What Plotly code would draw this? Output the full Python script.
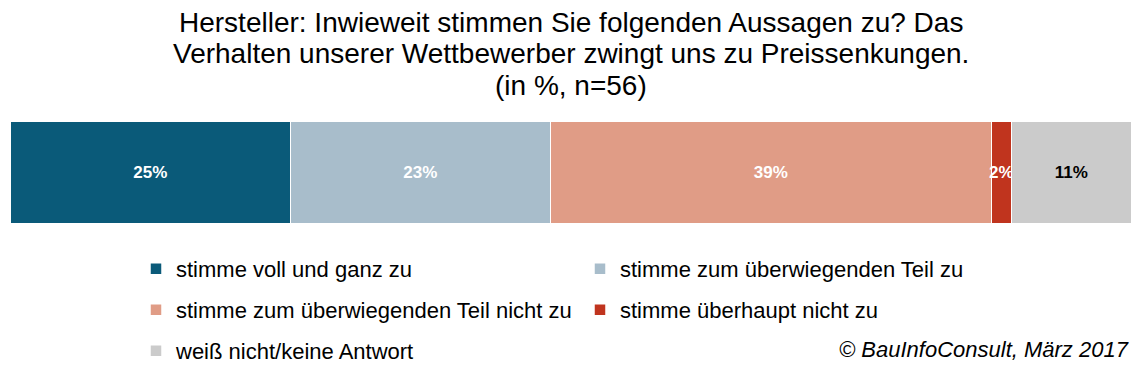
import plotly.graph_objects as go

categories = ["stimme voll und ganz zu", "stimme zum überwiegenden Teil zu",
              "stimme zum überwiegenden Teil nicht zu", "stimme überhaupt nicht zu",
              "weiß nicht/keine Antwort"]
values = [25.0, 23.2, 39.3, 1.8, 10.7]
colors = ["#0a5a79", "#a8bdcb", "#e09c86", "#c0341e", "#cbcbcb"]
label_colors = ["white", "white", "white", "white", "black"]
legend_ids = ["legend", "legend", "legend2", "legend2", "legend3"]

title_lines = ["Hersteller: Inwieweit stimmen Sie folgenden Aussagen zu? Das",
               "Verhalten unserer Wettbewerber zwingt uns zu Preissenkungen.",
               "(in %, n=56)"]
source = "© BauInfoConsult, März 2017"

FONT = "Liberation Sans, Arial, sans-serif"
OFF = 8  # page body margin
W, H = 1144 - OFF, 374 - OFF
ML, MR, MT, MB = 11 - OFF, 12, 122 - OFF, 150
plot_h = H - MT - MB


def py2paper(py):
    return (H - MB - (py - OFF)) / plot_h


def px2paper(px):
    return ((px - OFF) - ML) / (W - ML - MR)


fig = go.Figure()
for name, v, c, tc, lg in zip(categories, values, colors, label_colors, legend_ids):
    fig.add_trace(go.Bar(
        x=[v], y=[""], orientation="h", name=name,
        marker=dict(color=c, line=dict(color="white", width=1.5)),
        texttemplate="%{x:.0f}%", textposition="inside", insidetextanchor="middle",
        constraintext="none", textangle=0,
        textfont=dict(family=FONT, size=17, color=tc, weight="bold"),
        legend=lg, hoverinfo="skip",
    ))

legend_common = dict(orientation="h", xanchor="left", yanchor="middle",
                     entrywidth=399, entrywidthmode="pixels",
                     font=dict(family=FONT, size=22, color="black"),
                     bgcolor="rgba(0,0,0,0)", traceorder="normal")

lx = px2paper(136)
fig.update_layout(
    width=W, height=H,
    margin=dict(l=ML, r=MR, t=MT, b=MB),
    paper_bgcolor="white", plot_bgcolor="white",
    barmode="stack", bargap=0,
    xaxis=dict(range=[0, 100], visible=False, fixedrange=True),
    yaxis=dict(visible=False, fixedrange=True),
    showlegend=True,
    legend=dict(x=lx, y=py2paper(269), **legend_common),
    legend2=dict(x=lx, y=py2paper(310), **legend_common),
    legend3=dict(x=lx, y=py2paper(351), **legend_common),
)

for line, py in zip(title_lines, [23, 53, 85]):
    fig.add_annotation(text=line, x=px2paper(571), y=py2paper(py), xref="paper", yref="paper",
                       xanchor="center", yanchor="middle", showarrow=False, borderpad=0,
                       font=dict(family=FONT, size=28, color="black"))

fig.add_annotation(text=source, x=px2paper(1131), y=py2paper(349), xref="paper", yref="paper",
                   xanchor="right", yanchor="middle", showarrow=False,
                   font=dict(family=FONT, size=22, color="black", style="italic"))

fig.write_html("out.html")
